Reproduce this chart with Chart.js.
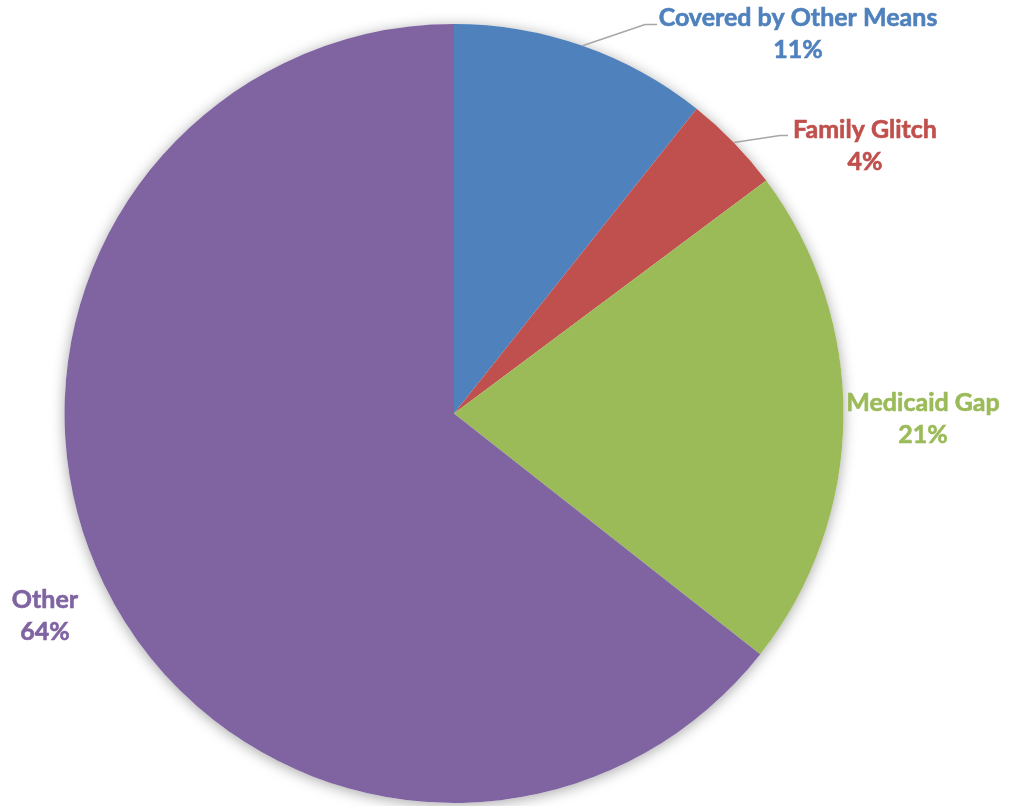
<!DOCTYPE html>
<html>
<head>
<meta charset="utf-8">
<script src="https://cdn.jsdelivr.net/npm/chart.js@4"></script>
<style>
  html, body { margin: 0; padding: 0; background: #fff; }
  #wrap { width: 1032px; height: 806px; }
</style>
</head>
<body>
<div id="wrap"><canvas id="myChart"></canvas></div>
<script>
const categories = ['Covered by Other Means', 'Family Glitch', 'Medicaid Gap', 'Other'];
const shares = [10.7, 4.1, 20.8, 64.4];
const sliceColors = ['#4f81bd', '#c0504d', '#9bbb59', '#8064a2'];

// label placement relative to pie centre (px), and whether a leader line is drawn
const labelSpots = [
  { dx: 344, dy: -380, leader: true, elbow: [191, -389], end: [203, -389] },
  { dx: 411, dy: -268, leader: true, elbow: [326, -278], end: [334, -278] },
  { dx: 469, dy: 5, leader: false },
  { dx: -409, dy: 202, leader: false },
];

// soft shadow behind the whole pie
const pieShadow = {
  id: 'pieShadow',
  beforeDatasetsDraw(chart) {
    const arc = chart.getDatasetMeta(0).data[0];
    if (!arc) return;
    const c = chart.ctx;
    c.save();
    c.shadowColor = 'rgba(0,0,0,0.35)';
    c.shadowBlur = 14;
    c.shadowOffsetX = 0;
    c.shadowOffsetY = 2;
    c.fillStyle = '#ffffff';
    c.beginPath();
    c.arc(arc.x, arc.y, arc.outerRadius, 0, Math.PI * 2);
    c.fill();
    c.restore();
  }
};

const sliceLabels = {
  id: 'sliceLabels',
  afterDatasetsDraw(chart) {
    const c = chart.ctx;
    const meta = chart.getDatasetMeta(0);
    meta.data.forEach(function (arc, i) {
      const spot = labelSpots[i];
      const cx = arc.x, cy = arc.y;
      if (spot.leader) {
        const mid = (arc.startAngle + arc.endAngle) / 2;
        c.save();
        c.strokeStyle = '#a6a6a6';
        c.lineWidth = 1.5;
        c.beginPath();
        c.moveTo(cx + Math.cos(mid) * arc.outerRadius, cy + Math.sin(mid) * arc.outerRadius);
        c.lineTo(cx + spot.elbow[0], cy + spot.elbow[1]);
        c.lineTo(cx + spot.end[0], cy + spot.end[1]);
        c.stroke();
        c.restore();
      }
      c.save();
      c.fillStyle = sliceColors[i];
      c.strokeStyle = sliceColors[i];
      c.lineWidth = 0.6;
      c.font = 'bold 25px Lato';
      c.textAlign = 'center';
      c.textBaseline = 'middle';
      const pct = Math.round(shares[i]) + '%';
      c.fillText(categories[i], cx + spot.dx, cy + spot.dy - 16);
      c.strokeText(categories[i], cx + spot.dx, cy + spot.dy - 16);
      c.fillText(pct, cx + spot.dx, cy + spot.dy + 16);
      c.strokeText(pct, cx + spot.dx, cy + spot.dy + 16);
      c.restore();
    });
  }
};

new Chart(document.getElementById('myChart'), {
  type: 'pie',
  data: {
    labels: categories,
    datasets: [{
      data: shares,
      backgroundColor: sliceColors,
      borderWidth: 0,
    }],
  },
  options: {
    responsive: true,
    maintainAspectRatio: false,
    animation: false,
    layout: { padding: { left: 0, right: 124, top: 24, bottom: 3 } },
    plugins: {
      legend: { display: false },
      tooltip: { enabled: false },
    },
  },
  plugins: [pieShadow, sliceLabels],
});
</script>
</body>
</html>
